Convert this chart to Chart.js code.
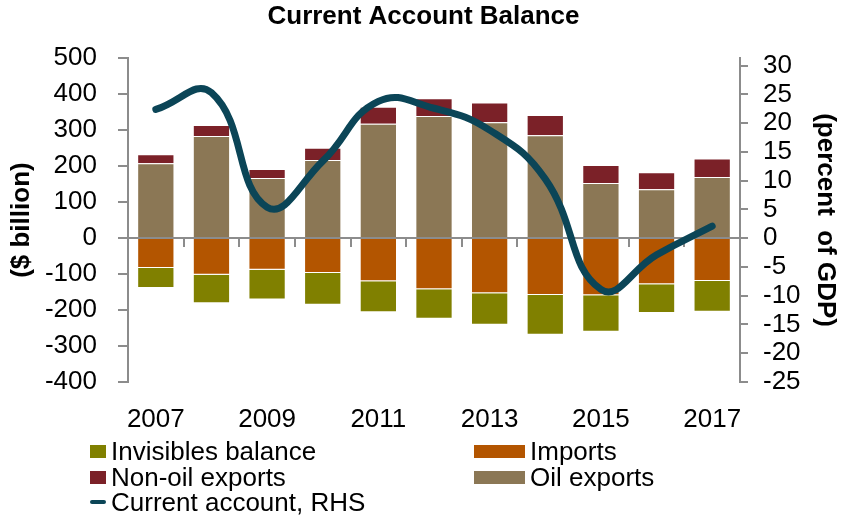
<!DOCTYPE html>
<html lang="en">
  <head>
    <meta charset="utf-8" />
    <title>Current Account Balance</title>
    <script src="https://cdn.jsdelivr.net/npm/chart.js"></script>
    <style>
      body { margin: 0; background: #fff; }
      .wrap { position: relative; width: 847px; height: 517px; overflow: hidden; }
      #chart { position: absolute; left: 0; top: 0; }
      .legend-item {
        position: absolute;
        height: 30px;
        display: flex;
        align-items: center;
        font: 26px "Liberation Sans", Arial, sans-serif;
        color: #000;
        white-space: nowrap;
      }
      .swatch { display: inline-block; margin-right: 5px; }
    </style>
  </head>
  <body>
    <div class="wrap">
      <canvas id="chart" width="847" height="517" style="width:847px;height:517px"></canvas>
      <div id="legend"></div>
    </div>

    <script>
      // data
      const years = ["2007", "2008", "2009", "2010", "2011", "2012", "2013", "2014", "2015", "2016", "2017"];
      const oilExports = [208, 284, 167, 217, 318, 339, 322, 286, 153, 136, 170];
      const nonOilExports = [25, 30, 25, 34, 47, 50, 55, 56, 50, 47, 51];
      const imports = [-83, -102, -88, -97, -120, -142, -153, -158, -159, -128, -119];
      const invisibles = [-56, -79, -83, -88, -86, -82, -88, -111, -101, -80, -86];
      const currentAccount = [22.4, 25.3, 5.4, 13.4, 23.8, 22.6, 18.8, 10.3, -8.9, -2.9, 2.1];

      const leftTicks = [-400, 500, 100];
      const rightTicks = [-25, 31.3, 5];

      const axisGray = "#8c8c8c";
      const fontFamily = '"Liberation Sans", Arial, sans-serif';
      Chart.defaults.font.family = fontFamily;
      Chart.defaults.font.size = 26;
      Chart.defaults.color = "#000";

      function bar(label, data, color) {
        return {
          type: "bar",
          label: label,
          data: data,
          backgroundColor: color,
          borderColor: "rgba(255,255,255,0.45)",
          borderWidth: 1,
          barPercentage: 0.67,
          categoryPercentage: 1,
          stack: "s",
          yAxisID: "y",
          order: 1,
        };
      }

      const datasets = [
        bar("Oil exports", oilExports, "#8b7755"),
        bar("Non-oil exports", nonOilExports, "#7b2128"),
        bar("Imports", imports, "#b35500"),
        bar("Invisibles balance", invisibles, "#808000"),
        {
          type: "line",
          label: "Current account, RHS",
          data: currentAccount,
          borderColor: "#0b4557",
          borderWidth: 7,
          borderCapStyle: "round",
          pointRadius: 0,
          tension: 0.45,
          fill: false,
          yAxisID: "y1",
          order: 0,
        },
      ];

      const ctx = document.getElementById("chart").getContext("2d");
      const chart = new Chart(ctx, {
        data: { labels: years, datasets: datasets },
        options: {
          responsive: false,
          animation: false,
          layout: { padding: { left: 0, right: 0, top: 0, bottom: 75 } },
          plugins: {
            legend: { display: false },
            tooltip: { enabled: false },
            title: {
              display: true,
              text: "Current Account Balance",
              color: "#000",
              font: { size: 26, weight: "bold" },
              padding: { top: 1, bottom: 26 },
            },
          },
          scales: {
            x: {
              stacked: true,
              grid: { display: false },
              border: { display: false },
              ticks: {
                autoSkip: false,
                maxRotation: 0,
                padding: 14,
                callback: (v, i) => (i % 2 === 0 ? years[i] : ""),
              },
              afterFit: (s) => { s.height = 60; },
            },
            // zero line with the small marks between the years
            x0: {
              type: "category",
              labels: years,
              position: { y: 0 },
              offset: true,
              z: 1,
              grid: { offset: true, drawOnChartArea: false, tickLength: 8, color: axisGray, lineWidth: 2 },
              border: { color: axisGray, width: 2 },
              ticks: { display: false },
            },
            y: {
              stacked: true,
              position: "left",
              min: leftTicks[0],
              max: leftTicks[1],
              ticks: { stepSize: leftTicks[2], padding: 21, autoSkip: false },
              grid: { drawOnChartArea: false, tickLength: 10, color: axisGray, lineWidth: 2 },
              border: { color: axisGray, width: 2 },
              title: {
                display: true,
                text: "($ billion)",
                font: { size: 26, weight: "bold" },
                padding: { top: 6, bottom: 0 },
              },
              afterFit: (s) => { s.width = 128; },
            },
            y1: {
              position: "right",
              min: rightTicks[0],
              max: rightTicks[1],
              ticks: { stepSize: rightTicks[2], includeBounds: false, padding: 15, autoSkip: false },
              grid: { drawOnChartArea: false, tickLength: 8, color: axisGray, lineWidth: 2 },
              border: { color: axisGray, width: 2 },
              title: {
                display: true,
                text: "(percent  of GDP)",
                font: { size: 26, weight: "bold" },
                padding: { top: 6, bottom: 0 },
              },
              afterFit: (s) => { s.width = 107; },
            },
          },
        },
      });

      // legend in two columns, like the original
      const legendOrder = ["Invisibles balance", "Imports", "Non-oil exports", "Oil exports", "Current account, RHS"];
      const legendSlots = [
        { x: 90, y: 451, w: 16 },
        { x: 474, y: 451, w: 51 },
        { x: 90, y: 477, w: 16 },
        { x: 474, y: 477, w: 51 },
        { x: 90, y: 502, w: 16 },
      ];
      const legendBox = document.getElementById("legend");
      legendOrder.forEach((name, i) => {
        const ds = chart.data.datasets.find((d) => d.label === name);
        const slot = legendSlots[i];
        const item = document.createElement("div");
        item.className = "legend-item";
        item.style.left = slot.x + "px";
        item.style.top = slot.y - 15 + "px";
        const sw = document.createElement("span");
        sw.className = "swatch";
        sw.style.width = slot.w + "px";
        if (ds.type === "line") {
          sw.style.height = "4px";
          sw.style.borderRadius = "2px";
          sw.style.background = ds.borderColor;
        } else {
          sw.style.height = "13px";
          sw.style.background = ds.backgroundColor;
        }
        item.appendChild(sw);
        item.appendChild(document.createTextNode(name));
        legendBox.appendChild(item);
      });
    </script>
  </body>
</html>
